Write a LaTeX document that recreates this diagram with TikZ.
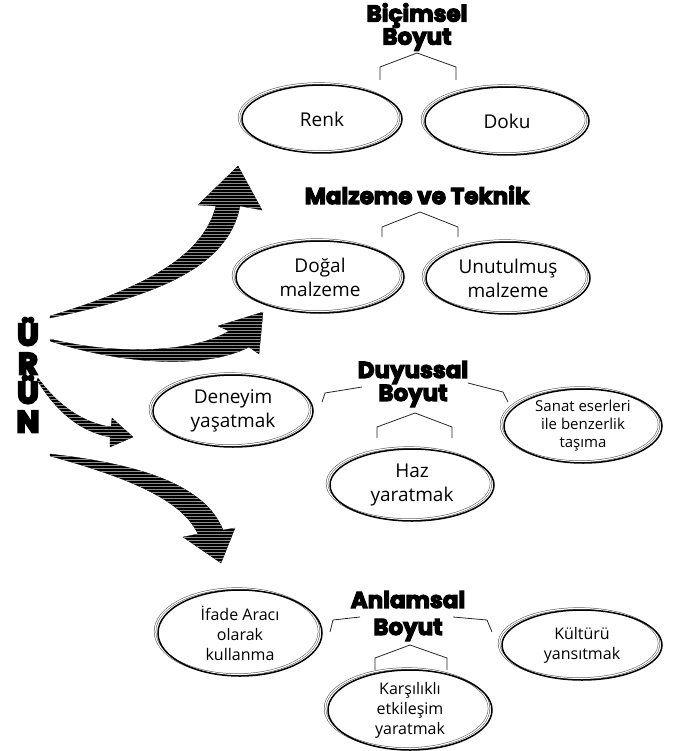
\documentclass[tikz,border=0pt]{standalone}
\usepackage{fontspec}
\setmainfont{Open Sans}
\newfontfamily\headfont[UprightFeatures={FakeBold=5}, BoldFeatures={FakeBold=5}]{Poppins}
\newfontfamily\urunfont[UprightFeatures={FakeBold=8}, BoldFeatures={FakeBold=8}]{Poppins}
\usetikzlibrary{positioning, shapes.geometric, patterns}

\begin{document}
\begin{tikzpicture}
    [
        x=1pt, y=-1pt,
        oval/.style={ellipse, draw=black, line width=1.5pt, inner sep=0pt, align=center, minimum width=162pt, minimum height=70pt, font=\fontsize{19}{24}\selectfont,
            preaction={draw=black!70, line width=0.5pt, double=white, double distance=1.2pt, transform canvas={shift={(-3pt,1.5pt)}}}},
        small_oval/.style={oval, font=\fontsize{16}{20}\selectfont},
        head/.style={align=center, inner sep=0pt, font=\headfont\bfseries\fontsize{23}{23}\selectfont},
        urun/.style={align=center, inner sep=0pt, font=\urunfont\bfseries\fontsize{30}{29}\selectfont},
        fork/.style={line width=0.8pt, color=black!85},
        sketch_arrow/.style={fill=black, draw=black, line width=0.3pt, postaction={pattern=horizontal lines, pattern color=black!45}},
    ]
        \useasboundingbox (0,0) rectangle (676,751);

        \node[urun] (urun) at (28,375) {Ü\\R\\Ü\\N};

        \node[head] (bicimsel) at (417,27) {Biçimsel\\Boyut};
        \node[oval, minimum width=160pt, minimum height=68pt] (renk) at (322,119) {Renk};
        \node[oval, minimum width=164pt, minimum height=68pt] (doku) at (507,121) {Doku};

        \node[head] (malzeme) at (417,195) {Malzeme ve Teknik};
        \node[oval, minimum width=168pt, minimum height=72pt] (dogal) at (320,277) {Doğal\\malzeme};
        \node[oval, minimum width=164pt, minimum height=72pt] (unutulmus) at (508,278) {Unutulmuş\\malzeme};

        \node[head] (duyussal) at (413,384) {Duyussal\\Boyut};
        \node[small_oval, minimum width=158pt, minimum height=74pt, font=\fontsize{15}{18}\selectfont] (sanat) at (583,426) {Sanat eserleri\\ile benzerlik\\taşıma};
        \node[oval, minimum width=160pt, minimum height=72pt] (deneyim) at (233,411) {Deneyim\\yaşatmak};
        \node[oval, minimum width=164pt, minimum height=72pt] (haz) at (412,485) {Haz\\yaratmak};

        \node[head, font=\headfont\bfseries\fontsize{23}{27}\selectfont] (anlamsal) at (408,616) {Anlamsal\\Boyut};
        \node[small_oval, minimum width=164pt, minimum height=86pt] (ifade) at (240,633) {İfade Aracı\\olarak\\kullanma};
        \node[small_oval, minimum width=160pt, minimum height=70pt] (kultur) at (582,645) {Kültürü\\yansıtmak};
        \node[small_oval, minimum width=164pt, minimum height=80pt] (karsilikli) at (410,710) {Karşılıklı\\etkileşim\\yaratmak};

        \coordinate (bic_l) at (380,80);
        \coordinate (bic_r) at (456,80);
        \draw[fork] (bic_l) -- ++(0,-13) -- (417,53) -- ++(39,14) -- (bic_r);
        \coordinate (mal_l) at (382,237);
        \coordinate (mal_r) at (458,237);
        \draw[fork] (mal_l) -- ++(0,-10) -- (420,212) -- ++(38,15) -- (mal_r);
        \coordinate (duy_l) at (322,402);
        \coordinate (duy_r) at (508,402);
        \coordinate (duy_bl) at (377,438);
        \coordinate (duy_br) at (452,438);
        \draw[fork] (duy_l) -- (325,393) -- (362,387);
        \draw[fork] (468,383) -- (503,392) -- (duy_r);
        \draw[fork] (duy_bl) -- ++(0,-11) -- (415,413) -- ++(37,14) -- (duy_br);
        \coordinate (anl_l) at (330,632);
        \coordinate (anl_r) at (492,632);
        \coordinate (anl_bl) at (375,670);
        \coordinate (anl_br) at (447,670);
        \draw[fork] (anl_l) -- (333,620) -- (360,617);
        \draw[fork] (453,617) -- (487,620) -- (anl_r);
        \draw[fork] (anl_bl) -- ++(0,-12) -- (410,645) -- ++(37,13) -- (anl_br);

        \fill[sketch_arrow] (50,316) .. controls (150,286) and (203,255) .. (216,206) -- (198,205) -- (238,166) -- (262,210) -- (240,206) .. controls (228,268) and (155,296) .. (50,318) -- cycle;
        \fill[sketch_arrow] (50,339) .. controls (120,356) and (195,352) .. (229,331) -- (218,326) -- (263,312) -- (259,354) -- (249,347) .. controls (205,370) and (120,364) .. (50,341) -- cycle;
        \fill[sketch_arrow] (38,378) .. controls (60,408) and (85,423) .. (111,427) -- (112,418) -- (133,437) -- (110,447) -- (110,437) .. controls (82,432) and (58,414) .. (37,380) -- cycle;
        \fill[sketch_arrow] (50,454) .. controls (140,464) and (205,485) .. (223,530) -- (235,528) -- (221,563) -- (183,537) -- (198,534) .. controls (182,500) and (130,478) .. (50,456) -- cycle;
    \end{tikzpicture}
\end{document}
